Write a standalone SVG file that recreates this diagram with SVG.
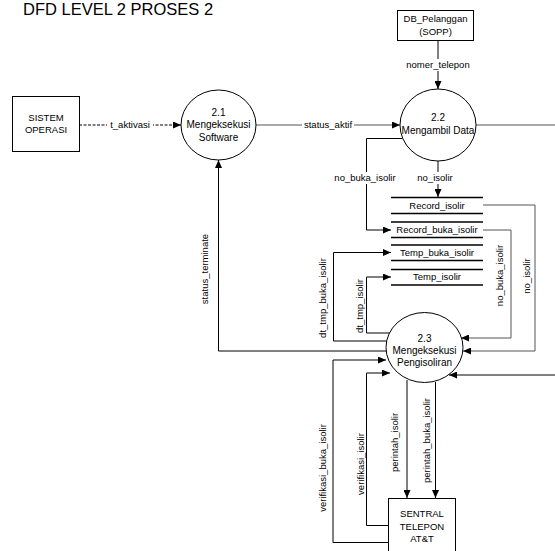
<svg xmlns="http://www.w3.org/2000/svg" width="555" height="551" viewBox="0 0 555 551">
<style>
text{font-family:"Liberation Sans",Arial,sans-serif;fill:#000;text-anchor:middle}
.t{font-size:9.5px}
.n{font-size:10px}
.title{font-size:16.5px;text-anchor:start}
.box{fill:#fff;stroke:#000;stroke-width:1}
.proc{fill:#fff;stroke:#000;stroke-width:1}
.store{stroke:#000;stroke-width:1.5;fill:none}
.c{fill:none;stroke:#000;stroke-width:1}
.g{stroke:#555}
.a{marker-end:url(#arr)}
.bg{fill:#fff}
</style>
<defs>
<marker id="arr" markerUnits="userSpaceOnUse" markerWidth="9" markerHeight="7" refX="8" refY="3.5" orient="auto">
<path d="M0,0 L8,3.5 L0,7 z" fill="#000"/>
</marker>
</defs>
<rect width="555" height="551" fill="#fff"/>
<text class="title" x="23" y="15">DFD LEVEL 2 PROSES 2</text>

<g id="connectors">
<!-- t_aktivasi -->
<line class="c a" x1="79" y1="125" x2="181" y2="125" stroke-dasharray="3,1.5"/>
<rect class="bg" x="107" y="119" width="46" height="12"/>
<text class="t" x="130" y="128.4">t_aktivasi</text>
<!-- status_aktif -->
<line class="c a g" x1="256" y1="125" x2="400" y2="125"/>
<rect class="bg" x="302" y="119" width="52" height="12"/>
<text class="t" x="328" y="128.4">status_aktif</text>
<!-- exit right from 2.2 -->
<line class="c g" x1="476" y1="125" x2="555" y2="125"/>
<!-- nomer_telepon -->
<line class="c a" x1="438" y1="41" x2="438" y2="89"/>
<rect class="bg" x="403" y="59" width="70" height="12"/>
<text class="t" x="438" y="68.4">nomer_telepon</text>
<!-- no_isolir 2.2 -> Record_isolir -->
<line class="c a" x1="438" y1="161" x2="438" y2="197"/>
<rect class="bg" x="418" y="172" width="38" height="12"/>
<text class="t" x="435" y="181.4">no_isolir</text>
<!-- no_buka_isolir 2.2 -> Record_buka_isolir -->
<polyline class="c a" points="402.5,138.5 366.5,138.5 366.5,230 391,230"/>
<rect class="bg" x="333" y="172" width="66" height="12"/>
<text class="t" x="365" y="181.4">no_buka_isolir</text>
<!-- Record_isolir -> 2.3 -->
<polyline class="c a g" points="483,205 535,205 535,351 463,351"/>
<text class="t" x="527" y="279.4" transform="rotate(-90 527 276)">no_isolir</text>
<!-- Record_buka_isolir -> 2.3 -->
<polyline class="c a g" points="483,230 511,230 511,338 461,338"/>
<text class="t" x="500" y="278.9" transform="rotate(-90 500 275.5)">no_buka_isolir</text>
<!-- dt_tmp_buka_isolir -->
<polyline class="c a" points="387.5,341 333.5,341 333.5,252.5 391,252.5"/>
<text class="t" x="323" y="301.4" transform="rotate(-90 323 298)">dt_tmp_buka_isolir</text>
<!-- dt_tmp_isolir -->
<polyline class="c a" points="390,333 366.5,333 366.5,277 391,277"/>
<text class="t" x="359.5" y="309.4" transform="rotate(-90 359.5 306)">dt_tmp_isolir</text>
<!-- status_terminate -->
<polyline class="c a" points="386.5,351 218.5,351 218.5,160"/>
<text class="t" x="205" y="272.4" transform="rotate(-90 205 269)">status_terminate</text>
<!-- verifikasi_buka_isolir -->
<polyline class="c a" points="388.5,542.5 333,542.5 333,360 386,360"/>
<text class="t" x="323" y="471.4" transform="rotate(-90 323 468)">verifikasi_buka_isolir</text>
<!-- verifikasi_isolir -->
<polyline class="c a" points="388.5,525.5 366.5,525.5 366.5,373 390,373"/>
<text class="t" x="361" y="467.4" transform="rotate(-90 361 464)">verifikasi_isolir</text>
<!-- perintah_isolir -->
<line class="c a" x1="407" y1="380" x2="407" y2="498"/>
<text class="t" x="395" y="445.9" transform="rotate(-90 395 442.5)">perintah_isolir</text>
<!-- perintah_buka_isolir -->
<line class="c a" x1="435.5" y1="382" x2="435.5" y2="498"/>
<text class="t" x="427" y="443.9" transform="rotate(-90 427 440.5)">perintah_buka_isolir</text>
<!-- incoming right to 2.3 -->
<line class="c a" x1="555" y1="375" x2="449" y2="375"/>
</g>

<g id="sistem-operasi">
<rect class="box" x="12.5" y="96.5" width="67" height="55"/>
<text class="t" x="46" y="121.4">SISTEM</text>
<text class="t" x="46" y="133.4">OPERASI</text>
</g>

<g id="db-pelanggan">
<rect class="box" x="397.5" y="10.5" width="76" height="30"/>
<text class="t" x="435.5" y="21.6">DB_Pelanggan</text>
<text class="t" x="435.5" y="35">(SOPP)</text>
</g>

<g id="p2-1">
<ellipse class="proc" cx="218.5" cy="125" rx="37.5" ry="35"/>
<text class="n" x="218.5" y="115.5">2.1</text>
<text class="n" x="218.5" y="128">Mengeksekusi</text>
<text class="n" x="218.5" y="140.5">Software</text>
</g>

<g id="p2-2">
<ellipse class="proc" cx="438" cy="125" rx="38" ry="36"/>
<text class="n" x="438" y="120.5">2.2</text>
<text class="n" x="438" y="133.5">Mengambil Data</text>
</g>

<g id="p2-3">
<ellipse class="proc" cx="424.5" cy="347.5" rx="38.5" ry="35"/>
<text class="n" x="424.5" y="341.5">2.3</text>
<text class="n" x="424.5" y="353.5">Mengeksekusi</text>
<text class="n" x="424.5" y="365.5">Pengisoliran</text>
</g>

<g id="record-isolir">
<line class="store" x1="391" y1="197.5" x2="483" y2="197.5"/>
<line class="store" x1="391" y1="213.5" x2="483" y2="213.5"/>
<text class="t" x="437" y="208.9">Record_isolir</text>
</g>

<g id="record-buka-isolir">
<line class="store" x1="391" y1="222" x2="483" y2="222"/>
<line class="store" x1="391" y1="237.5" x2="483" y2="237.5"/>
<text class="t" x="437" y="233.4">Record_buka_isolir</text>
</g>

<g id="temp-buka-isolir">
<line class="store" x1="391" y1="245" x2="483" y2="245"/>
<line class="store" x1="391" y1="260.5" x2="483" y2="260.5"/>
<text class="t" x="437" y="255.9">Temp_buka_isolir</text>
</g>

<g id="temp-isolir">
<line class="store" x1="391" y1="269.5" x2="483" y2="269.5"/>
<line class="store" x1="391" y1="285" x2="483" y2="285"/>
<text class="t" x="437" y="280.4">Temp_isolir</text>
</g>

<g id="sentral-telepon">
<rect class="box" x="388.5" y="498.5" width="67" height="60"/>
<text class="t" x="422" y="517.4">SENTRAL</text>
<text class="t" x="422" y="529.9">TELEPON</text>
<text class="t" x="422" y="542.4">AT&amp;T</text>
</g>
</svg>
